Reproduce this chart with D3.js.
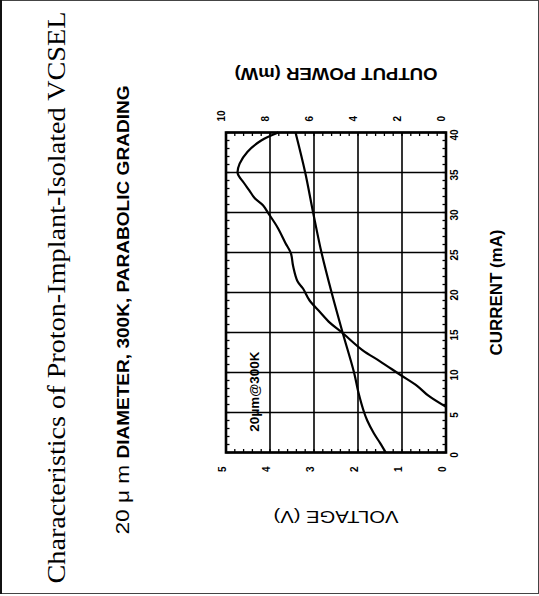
<!DOCTYPE html>
<html>
<head>
<meta charset="utf-8">
<script src="https://d3js.org/d3.v7.min.js"></script>
<style>
  body { margin: 0; background: #fff; }
  svg { display: block; }
  .tick text { font-family: "Liberation Sans Narrow", "Arial Narrow", "Liberation Sans", sans-serif; font-weight: bold; font-size: 10px; fill: #000; }
  .lbl { fill: #000; }
</style>
</head>
<body>
<svg id="chart"></svg>
<script>
// values
var currentTicks = [0, 5, 10, 15, 20, 25, 30, 35, 40];
var voltageTicks = [0, 1, 2, 3, 4, 5];
var powerTicks = [0, 2, 4, 6, 8, 10];

// voltage vs current (mA, V)
var ivCurrent = [0, 1.2, 2.4, 4.0, 5, 7.5, 10, 15, 20, 25, 30, 35, 40];
var ivVoltage = [1.37, 1.5, 1.64, 1.79, 1.86, 1.99, 2.09, 2.35, 2.6, 2.83, 3.02, 3.2, 3.42];

// output power vs current (mA, mW)
var liCurrent = [5.7, 7.1, 8.3, 9.75, 11.4, 12.8, 15, 16.2, 17.6, 19, 20.5, 21.4, 23.3, 24.9, 26.2, 28.1, 29.8, 30.9, 31.8, 32.8, 33.75, 34.9, 36.1, 37.6, 39, 40];
var liPower = [0, 0.8, 1.3, 2.1, 3.0, 3.8, 4.73, 5.27, 5.74, 6.2, 6.5, 6.75, 6.95, 7.05, 7.3, 7.65, 8.05, 8.32, 8.7, 8.95, 9.2, 9.47, 9.38, 9.02, 8.4, 7.62];

var W = 539, H = 596;
var sansFont = "'Liberation Sans', Arial, sans-serif";
var narrowFont = "'Liberation Sans Narrow', 'Arial Narrow', 'Liberation Sans', sans-serif";
var serifFont = "'Liberation Serif', 'Times New Roman', serif";

var svg = d3.select("#chart").attr("width", W).attr("height", H);

// page frame
svg.append("rect").attr("x", 0.5).attr("y", 0.5).attr("width", W - 1).attr("height", H - 3)
    .attr("fill", "none").attr("stroke", "#444").attr("stroke-width", 1);
svg.append("line").attr("x1", 1).attr("x2", 1).attr("y1", 0).attr("y2", H - 2)
    .attr("stroke", "#111").attr("stroke-width", 2);

// the whole plot is drawn the normal way, then turned a quarter turn
var plotW = 320, plotH = 220;
var g = svg.append("g").attr("transform", "translate(226,452.5) rotate(-90)");

var x = d3.scaleLinear().domain([0, 40]).range([0, plotW]);
var yV = d3.scaleLinear().domain([0, 5]).range([plotH, 0]);
var yP = d3.scaleLinear().domain([0, 10]).range([plotH, 0]);

// grid
g.selectAll(".gx").data(currentTicks).enter().append("line")
    .attr("x1", function (d) { return x(d); }).attr("x2", function (d) { return x(d); })
    .attr("y1", 0).attr("y2", plotH)
    .attr("stroke", "#000").attr("stroke-width", 1.6);
g.selectAll(".gy").data(voltageTicks).enter().append("line")
    .attr("x1", 0).attr("x2", plotW)
    .attr("y1", function (d) { return yV(d); }).attr("y2", function (d) { return yV(d); })
    .attr("stroke", "#000").attr("stroke-width", 1.6);

// small ticks inside the box
var minorI = d3.range(0, 40.01, 1);
var minorV = d3.range(0, 5.01, 0.2);
g.selectAll(".mt").data(minorI).enter().append("line")
    .attr("x1", function (d) { return x(d); }).attr("x2", function (d) { return x(d); })
    .attr("y1", 0).attr("y2", 3.5).attr("stroke", "#000").attr("stroke-width", 1.3);
g.selectAll(".mb").data(minorI).enter().append("line")
    .attr("x1", function (d) { return x(d); }).attr("x2", function (d) { return x(d); })
    .attr("y1", plotH).attr("y2", plotH - 3.5).attr("stroke", "#000").attr("stroke-width", 1.3);
g.selectAll(".ml").data(minorV).enter().append("line")
    .attr("y1", function (d) { return yV(d); }).attr("y2", function (d) { return yV(d); })
    .attr("x1", 0).attr("x2", 3.5).attr("stroke", "#000").attr("stroke-width", 1.3);
g.selectAll(".mr").data(minorV).enter().append("line")
    .attr("y1", function (d) { return yV(d); }).attr("y2", function (d) { return yV(d); })
    .attr("x1", plotW).attr("x2", plotW - 3.5).attr("stroke", "#000").attr("stroke-width", 1.3);

g.append("rect").attr("x", 0).attr("y", 0).attr("width", plotW).attr("height", plotH)
    .attr("fill", "none").attr("stroke", "#000").attr("stroke-width", 2.6);

// axes (labels only)
var axI = g.append("g").attr("transform", "translate(0," + plotH + ")")
    .call(d3.axisBottom(x).tickValues(currentTicks).tickSize(0).tickPadding(5));
axI.select(".domain").remove();
axI.selectAll("text").attr("dx", -3);

var axV = g.append("g")
    .call(d3.axisLeft(yV).tickValues(voltageTicks).tickFormat(d3.format("d")).tickSize(0).tickPadding(14));
axV.select(".domain").remove();
axV.selectAll("text").attr("y", -4);

var axP = g.append("g").attr("transform", "translate(" + plotW + ",0)")
    .call(d3.axisRight(yP).tickValues(powerTicks).tickFormat(d3.format("d")).tickSize(0).tickPadding(11));
axP.select(".domain").remove();
axP.selectAll("text").attr("y", -5);

// curves
var ivData = ivCurrent.map(function (c, i) { return [c, ivVoltage[i]]; });
var liData = liCurrent.map(function (c, i) { return [c, liPower[i]]; });

var lineV = d3.line()
    .x(function (d) { return x(d[0]); })
    .y(function (d) { return yV(d[1]); })
    .curve(d3.curveCatmullRom);
var lineP = d3.line()
    .x(function (d) { return x(d[0]); })
    .y(function (d) { return yP(d[1]); })
    .curve(d3.curveCatmullRom);

g.append("path").attr("d", lineV(ivData))
    .attr("fill", "none").attr("stroke", "#000").attr("stroke-width", 2.2);
g.append("path").attr("d", lineP(liData))
    .attr("fill", "none").attr("stroke", "#000").attr("stroke-width", 2.2);

// note inside the box
g.append("text").attr("class", "lbl")
    .attr("x", x(7.6)).attr("y", yV(4.36))
    .attr("text-anchor", "middle").attr("dominant-baseline", "central")
    .style("font-family", narrowFont)
    .attr("font-weight", "bold").attr("font-size", 13)
    .attr("textLength", 80).attr("lengthAdjust", "spacingAndGlyphs")
    .text("20μm@300K");

// axis titles
g.append("text").attr("class", "lbl")
    .attr("x", x(20)).attr("y", 270)
    .attr("text-anchor", "middle").attr("dominant-baseline", "central")
    .style("font-family", sansFont)
    .attr("font-weight", "bold").attr("font-size", 17)
    .attr("textLength", 126).attr("lengthAdjust", "spacingAndGlyphs")
    .text("CURRENT (mA)");

g.append("text").attr("class", "lbl")
    .attr("transform", "translate(-64," + yV(2.5) + ") rotate(-90)")
    .attr("text-anchor", "middle").attr("dominant-baseline", "central")
    .style("font-family", sansFont)
    .attr("font-size", 16)
    .attr("textLength", 125).attr("lengthAdjust", "spacingAndGlyphs")
    .text("VOLTAGE (V)");

g.append("text").attr("class", "lbl")
    .attr("transform", "translate(379.5," + yP(5) + ") rotate(-90)")
    .attr("text-anchor", "middle").attr("dominant-baseline", "central")
    .style("font-family", sansFont)
    .attr("font-weight", "bold").attr("font-size", 16)
    .attr("textLength", 203).attr("lengthAdjust", "spacingAndGlyphs")
    .text("OUTPUT POWER (mW)");

// page titles
svg.append("text").attr("class", "lbl")
    .attr("transform", "translate(65,297.5) rotate(-90)")
    .attr("text-anchor", "middle")
    .style("font-family", serifFont)
    .attr("font-size", 26)
    .attr("textLength", 572).attr("lengthAdjust", "spacingAndGlyphs")
    .text("Characteristics of Proton-Implant-Isolated VCSEL");

var sub = svg.append("text").attr("class", "lbl")
    .attr("transform", "translate(129,310) rotate(-90)")
    .attr("text-anchor", "middle")
    .style("font-family", sansFont)
    .attr("textLength", 449).attr("lengthAdjust", "spacingAndGlyphs");
sub.append("tspan").attr("font-size", 19).text("20 μ m ");
sub.append("tspan").attr("font-size", 16).attr("font-weight", "bold").text("DIAMETER, 300K, PARABOLIC GRADING");
</script>
</body>
</html>
